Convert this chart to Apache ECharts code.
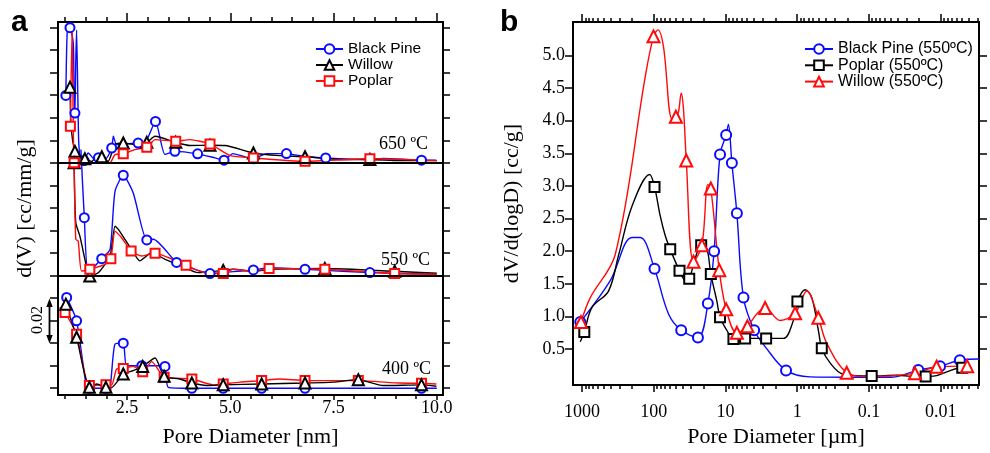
<!DOCTYPE html>
<html>
<head>
<meta charset="utf-8">
<script src="https://cdn.jsdelivr.net/npm/echarts@6.0.0/dist/echarts.min.js"></script>
<style>
html,body{margin:0;padding:0;background:#ffffff;}
#chart{width:990px;height:453px;}
</style>
</head>
<body>
<div id="chart"></div>
<script>
// ---------------- Panel a : [pore diameter (nm), d(V) (cc/mm/g), marker flag] ----------------
const blackPine650 = [[1.02,0.0299,1],[1.06,0.0599,0],[1.12,0.0600,1],[1.20,0.0530,0],[1.22,0.0300,0],[1.24,0.0221,1],[1.26,0.0450,0],[1.28,0.0590,0],[1.33,0.0100,0],[1.38,0.0015,0],[1.46,0.0010,1],[1.56,0.0044,0],[1.72,0.0015,0],[1.81,0.0023,1],[1.99,0.0020,0],[2.13,0.0066,1],[2.17,0.0118,0],[2.25,0.0081,0],[2.50,0.0085,0],[2.77,0.0088,1],[2.95,0.0092,0],[3.19,0.0184,1],[3.42,0.0037,0],[3.66,0.0051,1],[4.21,0.0040,1],[4.63,0.0022,0],[4.85,0.0012,1],[5.06,0.0041,0],[5.56,0.0018,1],[5.88,0.0041,0],[6.36,0.0041,1],[6.69,0.0032,0],[7.31,0.0022,1],[8.30,0.0015,0],[8.70,0.0020,0],[9.63,0.0012,1],[9.99,0.0012,0]];
const willow650 = [[1.12,0.0336,1],[1.15,0.0150,0],[1.24,0.0051,1],[1.36,0.0006,0],[1.48,0.0018,1],[1.65,0.0006,0],[1.75,0.0028,0],[1.89,0.0027,1],[2.04,0.0006,0],[2.21,0.0081,0],[2.41,0.0088,1],[2.69,0.0081,0],[2.98,0.0091,1],[3.18,0.0118,0],[3.68,0.0091,1],[4.02,0.0077,0],[4.51,0.0078,1],[4.87,0.0077,0],[5.56,0.0044,1],[6.20,0.0032,0],[6.81,0.0027,1],[7.65,0.0015,0],[8.38,0.0015,1],[9.10,0.0010,0],[10.0,0.0010,0]];
const poplar650 = [[1.13,0.0162,1],[1.17,0.0599,0],[1.21,0.0015,0],[1.24,-0.0003,1],[1.48,0.0000,0],[1.85,0.0001,0],[2.09,0.0001,0],[2.21,0.0037,0],[2.41,0.0040,1],[2.69,0.0059,0],[2.98,0.0069,1],[3.18,0.0103,0],[3.68,0.0096,1],[4.02,0.0103,0],[4.51,0.0084,1],[5.00,0.0032,0],[5.56,0.0022,1],[6.81,0.0007,1],[8.38,0.0018,1],[10.0,0.0010,0]];

const blackPine550 = [[1.385,0.0559,0],[1.467,0.0257,1],[1.564,0.0013,0],[1.888,0.0075,1],[2.09,0.0116,0],[2.21,0.0374,0],[2.41,0.0445,1],[2.65,0.0367,0],[2.98,0.0158,1],[3.14,0.0161,0],[3.70,0.0058,1],[4.02,0.0035,0],[4.51,0.0009,1],[4.83,0.0013,0],[5.56,0.0025,1],[5.96,0.0035,0],[6.81,0.0028,1],[7.29,0.0023,0],[8.38,0.0013,1],[9.99,0.0006,0]];
const willow550 = [[1.22,0.0500,1],[1.26,0.0235,0],[1.36,0.0175,0],[1.56,0.0006,0],[1.60,-0.0002,1],[1.81,0.0013,0],[2.09,0.0087,0],[2.21,0.0219,0],[2.29,0.0205,0],[2.61,0.0116,0],[2.81,0.0065,0],[3.10,0.0102,0],[3.42,0.0072,0],[3.82,0.0042,0],[4.22,0.0013,0],[4.83,0.0023,1],[5.06,0.0028,0],[5.55,0.0019,0],[5.96,0.0028,0],[7.29,0.0031,1],[8.98,0.0019,1],[10.0,0.0010,0]];
const poplar550 = [[1.22,0.0500,1],[1.26,0.0161,0],[1.32,0.0153,0],[1.40,0.0020,0],[1.60,0.0028,1],[1.97,0.0050,0],[2.11,0.0075,1],[2.21,0.0197,0],[2.37,0.0168,0],[2.60,0.0109,1],[2.86,0.0087,0],[3.18,0.0099,1],[3.50,0.0080,0],[3.93,0.0046,1],[4.31,0.0016,0],[4.83,0.0009,1],[5.06,0.0028,0],[5.55,0.0019,0],[5.94,0.0031,1],[7.29,0.0028,1],[8.98,0.0009,1],[10.0,0.0006,0]];

const blackPine400 = [[1.04,0.0403,1],[1.28,0.0299,1],[1.52,0.0004,0],[1.60,0.0000,1],[1.99,0.0000,1],[2.09,0.0004,0],[2.21,0.0196,0],[2.41,0.0200,1],[2.49,0.0100,0],[2.86,0.0100,1],[3.34,0.0100,0],[3.42,0.0097,1],[3.50,0.0004,0],[4.07,0.0000,1],[4.83,0.0000,1],[5.76,0.0000,1],[6.81,0.0000,1],[9.63,0.0000,1],[10.0,0.0000,0]];
const willow400 = [[1.02,0.0373,1],[1.28,0.0226,1],[1.59,0.0004,1],[1.77,0.0019,0],[1.99,0.0004,1],[2.13,0.0004,0],[2.41,0.0063,1],[2.65,0.0078,0],[2.88,0.0097,1],[3.18,0.0134,0],[3.40,0.0053,1],[3.78,0.0041,0],[4.07,0.0023,1],[4.43,0.0012,0],[4.83,0.0015,1],[5.76,0.0019,1],[6.81,0.0023,1],[7.49,0.0027,0],[8.10,0.0038,1],[8.70,0.0012,0],[9.63,0.0015,1],[9.99,0.0009,0]];
const poplar400 = [[1.00,0.0336,1],[1.28,0.0240,1],[1.59,0.0012,1],[1.99,0.0015,1],[2.13,0.0015,0],[2.25,0.0085,0],[2.41,0.0088,1],[2.65,0.0097,0],[2.88,0.0073,1],[3.10,0.0118,0],[3.40,0.0049,1],[4.07,0.0041,1],[4.59,0.0015,0],[4.83,0.0019,1],[5.23,0.0027,0],[5.76,0.0034,1],[6.20,0.0041,0],[6.81,0.0034,1],[8.10,0.0034,1],[9.10,0.0023,0],[9.63,0.0022,1],[9.99,0.0019,0]];

// vertical offsets used to stack the three temperatures
const OFFSET_650 = 0.10, OFFSET_550 = 0.05, OFFSET_400 = 0.0;

// ---------------- Panel b : [pore diameter (um), dV/d(logD) (cc/g), marker flag] ----------------
const blackPineB = [[1056,0.915,1],[404,1.55,0],[201,2.21,0],[154,2.21,0],[97.5,1.73,1],[62.2,1.04,0],[41.4,0.79,1],[24.2,0.68,1],[17.6,1.20,1],[14.4,2.00,1],[11.9,3.48,1],[9.78,3.78,1],[9.1,3.94,0],[8.14,3.35,1],[6.93,2.58,1],[5.61,1.29,1],[3.98,0.79,1],[2.80,0.54,0],[1.43,0.175,1],[0.66,0.076,0],[0.183,0.070,0],[0.05,0.070,0],[0.0205,0.18,1],[0.0102,0.24,1],[0.0054,0.33,1],[0.0029,0.35,0]];
const poplarB = [[1056,0.615,0],[929,0.765,1],[726,1.14,0],[427,1.39,0],[309,1.94,0],[201,2.69,0],[114,3.175,0],[97.5,2.985,1],[81.2,2.54,0],[69.2,2.24,0],[58.9,2.03,1],[43.7,1.70,1],[36.4,1.56,0],[32.0,1.58,1],[26.4,1.89,0],[21.8,2.09,1],[18.2,2.04,0],[16.0,1.65,1],[13.2,1.24,0],[11.9,0.99,1],[9.57,0.79,0],[7.74,0.654,1],[5.32,0.665,1],[2.71,0.665,1],[1.56,0.665,0],[1.13,0.94,0],[0.993,1.23,1],[0.776,1.41,0],[0.627,1.29,0],[0.507,0.79,0],[0.454,0.515,1],[0.348,0.29,0],[0.227,0.115,0],[0.0915,0.091,1],[0.041,0.10,0],[0.0194,0.075,0],[0.0162,0.081,1],[0.0114,0.095,0],[0.0050,0.216,1],[0.0039,0.216,0]];
const willowB = [[1033,0.915,1],[766,1.29,0],[344,1.95,0],[131,4.68,0],[100.7,5.29,1],[87.3,5.39,0],[73.1,5.13,0],[55.8,4.03,0],[49.1,4.06,1],[45.2,4.13,0],[41.4,4.42,0],[38.5,4.18,0],[35.2,3.39,1],[27.9,1.84,1],[21.3,2.09,1],[17.6,3.02,0],[16.0,2.96,1],[12.2,1.71,1],[9.77,1.11,1],[6.93,0.75,1],[4.94,0.85,1],[3.66,1.04,0],[2.80,1.13,1],[1.73,0.94,0],[1.07,1.05,1],[0.735,1.39,0],[0.507,0.98,1],[0.387,0.59,0],[0.204,0.14,1],[0.107,0.08,0],[0.0228,0.13,1],[0.0114,0.23,1],[0.00427,0.24,1]];

// ---------------- ticks and labels ----------------
const xTicksA = [1.0,1.5,2.0,2.5,3.0,3.5,4.0,4.5,5.0,5.5,6.0,6.5,7.0,7.5,8.0,8.5,9.0,9.5,10.0];
const xLabelsA = [2.5,5.0,7.5,10.0];
const yTicksA = [0,0.01,0.02,0.03,0.04,0.05,0.06,0.07,0.08,0.09,0.10,0.11,0.12,0.13,0.14,0.15,0.16];
const xLabelsB = [1000,100,10,1,0.1,0.01];
const xMinorMultipliersB = [2,3,4,5,6,7,8,9];
const yTicksB = [0.5,1.0,1.5,2.0,2.5,3.0,3.5,4.0,4.5,5.0];

const X_MIN_A = 0.83, X_MAX_A = 10.15, Y_MIN_A = -0.003, Y_MAX_A = 0.1625;
const X_MIN_B = 0.00292, X_MAX_B = 1335, Y_MIN_B = -0.05, Y_MAX_B = 5.51;

const BLUE = '#0a0aff', RED = '#ff0a0a', BLACK = '#000000';
const SERIF = '"Liberation Serif", "Times New Roman", serif';
const SANS = '"Liberation Sans", Arial, sans-serif';

const xMinorB = [];
for (let e = -3; e <= 3; e++) {
  xMinorMultipliersB.forEach(m => {
    const v = m * Math.pow(10, e);
    if (v >= X_MIN_B && v <= X_MAX_B) xMinorB.push(v);
  });
}

function pts(arr, off) {
  return arr.map(p => {
    const item = { value: [p[0], p[1] + off] };
    if (!p[2]) item.symbol = 'none';
    return item;
  });
}

function lineSeries(name, arr, off, color, symbol, size, gridIdx, smooth) {
  return {
    type: 'line', name: name,
    xAxisIndex: gridIdx === 0 ? 0 : 4,
    yAxisIndex: gridIdx === 0 ? 0 : 2,
    data: pts(arr, off),
    symbol: symbol, symbolSize: size,
    showSymbol: true, showAllSymbol: true,
    smooth: smooth,
    lineStyle: { color: color, width: 1.4 },
    itemStyle: { color: color, borderColor: color, borderWidth: 1.4 },
    emphasis: { disabled: true },
    animation: false, silent: true, clip: true
  };
}

const tickStyle = { color: '#000', width: 1.5 };
function axis(extra) {
  return Object.assign({
    axisLine: { show: false, onZero: false },
    splitLine: { show: false },
    axisPointer: { show: false },
    axisLabel: { show: false },
    silent: true
  }, extra);
}

const xAxes = [
  // panel a
  axis({ gridIndex: 0, type: 'value', position: 'bottom', min: X_MIN_A, max: X_MAX_A,
    axisTick: { customValues: xTicksA, length: 4, lineStyle: tickStyle },
    axisLabel: { show: true, customValues: xLabelsA, formatter: v => Number(v).toFixed(1),
      fontFamily: SERIF, fontSize: 18, color: '#000', margin: 4 },
    name: 'Pore Diameter [nm]', nameLocation: 'middle', nameGap: 31,
    nameTextStyle: { fontFamily: SERIF, fontSize: 22, color: '#000' } }),
  axis({ gridIndex: 0, type: 'value', position: 'bottom', min: X_MIN_A, max: X_MAX_A,
    axisTick: { customValues: xLabelsA, length: 5, lineStyle: tickStyle } }),
  axis({ gridIndex: 0, type: 'value', position: 'top', min: X_MIN_A, max: X_MAX_A,
    axisTick: { customValues: xTicksA, length: 5, lineStyle: tickStyle } }),
  axis({ gridIndex: 0, type: 'value', position: 'top', min: X_MIN_A, max: X_MAX_A,
    axisTick: { customValues: xLabelsA, length: 9, lineStyle: tickStyle } }),
  // panel b
  axis({ gridIndex: 1, type: 'log', logBase: 10, inverse: true, position: 'bottom', min: X_MIN_B, max: X_MAX_B,
    axisTick: { customValues: xLabelsB, length: 7, lineStyle: tickStyle },
    axisLabel: { show: true, customValues: xLabelsB,
      formatter: v => (v >= 1 ? String(Math.round(v)) : String(parseFloat(Number(v).toPrecision(2)))),
      fontFamily: SERIF, fontSize: 18, color: '#000', margin: 18 },
    name: 'Pore Diameter [\u00b5m]', nameLocation: 'middle', nameGap: 34,
    nameTextStyle: { fontFamily: SERIF, fontSize: 22, color: '#000' } }),
  axis({ gridIndex: 1, type: 'log', logBase: 10, inverse: true, position: 'bottom', min: X_MIN_B, max: X_MAX_B,
    axisTick: { customValues: xMinorB, length: 4, lineStyle: tickStyle } }),
  axis({ gridIndex: 1, type: 'log', logBase: 10, inverse: true, position: 'top', min: X_MIN_B, max: X_MAX_B,
    axisTick: { customValues: xLabelsB, length: 8, lineStyle: tickStyle } }),
  axis({ gridIndex: 1, type: 'log', logBase: 10, inverse: true, position: 'top', min: X_MIN_B, max: X_MAX_B,
    axisTick: { customValues: xMinorB, length: 4, lineStyle: tickStyle } })
];

const yAxes = [
  axis({ gridIndex: 0, type: 'value', position: 'left', min: Y_MIN_A, max: Y_MAX_A,
    axisTick: { customValues: yTicksA, length: 8, lineStyle: tickStyle },
    name: 'd(V) [cc/mm/g]', nameLocation: 'middle', nameGap: 22,
    nameTextStyle: { fontFamily: SERIF, fontSize: 22, color: '#000' } }),
  axis({ gridIndex: 0, type: 'value', position: 'right', min: Y_MIN_A, max: Y_MAX_A,
    axisTick: { customValues: yTicksA, length: 7, lineStyle: tickStyle } }),
  axis({ gridIndex: 1, type: 'value', position: 'left', min: Y_MIN_B, max: Y_MAX_B,
    axisTick: { customValues: yTicksB, length: 8, lineStyle: tickStyle },
    axisLabel: { show: true, customValues: yTicksB, formatter: v => Number(v).toFixed(1),
      fontFamily: SERIF, fontSize: 18, color: '#000', margin: 8 },
    name: 'dV/d(logD) [cc/g]', nameLocation: 'middle', nameGap: 50,
    nameTextStyle: { fontFamily: SERIF, fontSize: 22, color: '#000' } }),
  axis({ gridIndex: 1, type: 'value', position: 'right', min: Y_MIN_B, max: Y_MAX_B,
    axisTick: { customValues: yTicksB, length: 8, lineStyle: tickStyle } })
];

const SM_A = 0.2, SM_B = 0.35;
const series = [
  lineSeries('Black Pine', blackPine650, OFFSET_650, BLUE, 'emptyCircle', 9, 0, SM_A),
  lineSeries('Willow', willow650, OFFSET_650, BLACK, 'emptyTriangle', 11, 0, SM_A),
  lineSeries('Poplar', poplar650, OFFSET_650, RED, 'emptyRect', 9, 0, SM_A),
  lineSeries('Black Pine', blackPine550, OFFSET_550, BLUE, 'emptyCircle', 9, 0, SM_A),
  lineSeries('Willow', willow550, OFFSET_550, BLACK, 'emptyTriangle', 11, 0, SM_A),
  lineSeries('Poplar', poplar550, OFFSET_550, RED, 'emptyRect', 9, 0, SM_A),
  lineSeries('Black Pine', blackPine400, OFFSET_400, BLUE, 'emptyCircle', 9, 0, SM_A),
  lineSeries('Poplar', poplar400, OFFSET_400, RED, 'emptyRect', 9, 0, SM_A),
  lineSeries('Willow', willow400, OFFSET_400, BLACK, 'emptyTriangle', 11, 0, SM_A),
  lineSeries('Black Pine (550\u00baC)', blackPineB, 0, BLUE, 'emptyCircle', 10, 1, SM_B),
  lineSeries('Poplar (550\u00baC)', poplarB, 0, BLACK, 'emptyRect', 10, 1, SM_B),
  lineSeries('Willow (550\u00baC)', willowB, 0, RED, 'emptyTriangle', 12, 1, SM_B)
];
// separators between the stacked temperature curves
series[0].markLine = {
  silent: true, symbol: ['none', 'none'], label: { show: false },
  lineStyle: { color: '#000', width: 2, type: 'solid' },
  data: [{ yAxis: OFFSET_650 }, { yAxis: OFFSET_550 }]
};

const option = {
  backgroundColor: '#ffffff',
  animation: false,
  grid: [
    { left: 58, top: 22, width: 385, height: 374, show: true, borderColor: '#000', borderWidth: 2, backgroundColor: 'transparent' },
    { left: 573, top: 22, width: 406, height: 371, show: true, borderColor: '#000', borderWidth: 2, backgroundColor: 'transparent' }
  ],
  xAxis: xAxes,
  yAxis: yAxes,
  legend: [
    { data: ['Black Pine', 'Willow', 'Poplar'], orient: 'vertical', left: 315, top: 41, padding: 0,
      itemWidth: 27, itemHeight: 12, itemGap: 0, selectedMode: false,
      textStyle: { fontFamily: SANS, fontSize: 15.5, color: '#000', lineHeight: 15.5 } },
    { data: ['Black Pine (550\u00baC)', 'Poplar (550\u00baC)', 'Willow (550\u00baC)'], orient: 'vertical', left: 804, top: 41, padding: 0,
      itemWidth: 28, itemHeight: 12, itemGap: 0.3, selectedMode: false,
      textStyle: { fontFamily: SANS, fontSize: 16, color: '#000', lineHeight: 16 } }
  ],
  graphic: [
    { type: 'text', x: 11, y: 23, style: { text: 'a', font: 'bold 30px ' + SANS, fill: '#000', align: 'left', verticalAlign: 'middle', textAlign: 'left', textVerticalAlign: 'middle' } },
    { type: 'text', x: 500, y: 23, style: { text: 'b', font: 'bold 30px ' + SANS, fill: '#000', align: 'left', verticalAlign: 'middle', textAlign: 'left', textVerticalAlign: 'middle' } },
    { type: 'text', x: 428, y: 144.5, style: { text: '650 \u00baC', font: '18px ' + SERIF, fill: '#000', align: 'right', verticalAlign: 'middle', textAlign: 'right', textVerticalAlign: 'middle' } },
    { type: 'text', x: 430, y: 260, style: { text: '550 \u00baC', font: '18px ' + SERIF, fill: '#000', align: 'right', verticalAlign: 'middle', textAlign: 'right', textVerticalAlign: 'middle' } },
    { type: 'text', x: 431, y: 369.5, style: { text: '400 \u00baC', font: '18px ' + SERIF, fill: '#000', align: 'right', verticalAlign: 'middle', textAlign: 'right', textVerticalAlign: 'middle' } },
    { type: 'text', x: 37.5, y: 320, rotation: Math.PI / 2, style: { text: '0.02', font: '16px ' + SERIF, fill: '#000', align: 'center', verticalAlign: 'middle', textAlign: 'center', textVerticalAlign: 'middle' } },
    { type: 'polyline', shape: { points: [[49.5, 305], [49.5, 337]] }, style: { stroke: '#000', lineWidth: 1.8, fill: null } },
    { type: 'polygon', shape: { points: [[49.5, 298.5], [46.3, 307], [52.7, 307]] }, style: { fill: '#000' } },
    { type: 'polygon', shape: { points: [[49.5, 343.5], [46.3, 335], [52.7, 335]] }, style: { fill: '#000' } }
  ],
  series: series
};

const chart = echarts.init(document.getElementById('chart'), null, { renderer: 'canvas' });
chart.setOption(option);
</script>
</body>
</html>
